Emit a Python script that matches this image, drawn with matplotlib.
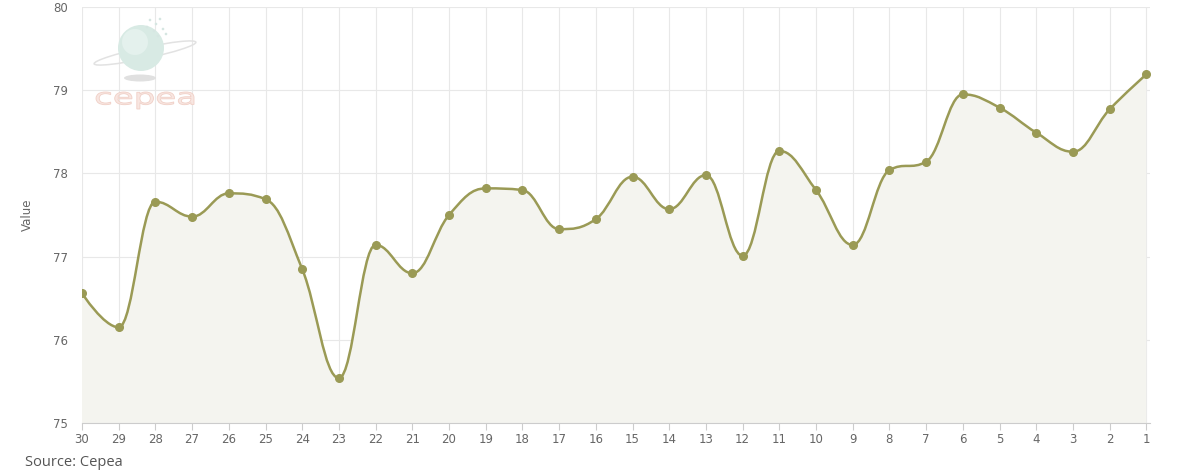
# Cepea daily price line (Highcharts-style spline with area fill)
import matplotlib
matplotlib.use('Agg')
import matplotlib.pyplot as plt
from matplotlib.path import Path
from matplotlib.patches import PathPatch, Circle, Ellipse
from matplotlib.textpath import TextPath
from matplotlib.transforms import Affine2D
from matplotlib.font_manager import FontProperties

days = ['30', '29', '28', '27', '26', '25', '24', '23', '22', '21', '20', '19', '18', '17', '16',
        '15', '14', '13', '12', '11', '10', '9', '8', '7', '6', '5', '4', '3', '2', '1']
values = [76.56, 76.15, 77.66, 77.48, 77.76, 77.69, 76.85, 75.54, 77.14, 76.80, 77.50, 77.82, 77.80,
          77.33, 77.45, 77.96, 77.57, 77.98, 77.01, 78.27, 77.80, 77.14, 78.04, 78.14, 78.95, 78.79,
          78.49, 78.26, 78.77, 79.19]

LINE = '#9a9a55'
FILL = '#f4f4ef'
GRID = '#e8e8e8'
TXT = '#666666'


def spline_path(xs, ys, smoothing=1.5):
    # bezier control points the way highcharts builds its spline
    n = len(xs)
    verts = [(xs[0], ys[0])]
    codes = [Path.MOVETO]
    right = [(xs[0], ys[0])] * n
    left = [(xs[0], ys[0])] * n
    denom = smoothing + 1
    for i in range(1, n - 1):
        px, py = xs[i], ys[i]
        lx, ly = xs[i - 1], ys[i - 1]
        nx, ny = xs[i + 1], ys[i + 1]
        lcx = (smoothing * px + lx) / denom
        lcy = (smoothing * py + ly) / denom
        rcx = (smoothing * px + nx) / denom
        rcy = (smoothing * py + ny) / denom
        if rcx != lcx:
            corr = (rcy - lcy) * (rcx - px) / (rcx - lcx) + py - rcy
            lcy += corr
            rcy += corr
        if lcy > ly and lcy > py:
            lcy = max(ly, py); rcy = 2 * py - lcy
        elif lcy < ly and lcy < py:
            lcy = min(ly, py); rcy = 2 * py - lcy
        if rcy > ny and rcy > py:
            rcy = max(ny, py); lcy = 2 * py - rcy
        elif rcy < ny and rcy < py:
            rcy = min(ny, py); lcy = 2 * py - rcy
        left[i] = (lcx, lcy)
        right[i] = (rcx, rcy)
    left[n - 1] = (xs[n - 1], ys[n - 1])
    for i in range(1, n):
        verts += [right[i - 1], left[i], (xs[i], ys[i])]
        codes += [Path.CURVE4] * 3
    return verts, codes


xs = list(range(len(days)))
verts, codes = spline_path(xs, values)

fig = plt.figure(figsize=(11.79, 4.74), dpi=100)
ax = fig.add_axes([82 / 1179, 1 - 423 / 474, (1150 - 82) / 1179, (423 - 7) / 474])

ymin = 75
fill_verts = verts + [(xs[-1], ymin), (xs[0], ymin), (xs[0], values[0])]
fill_codes = codes + [Path.LINETO, Path.LINETO, Path.CLOSEPOLY]
ax.add_patch(PathPatch(Path(fill_verts, fill_codes), facecolor=FILL, edgecolor='none', zorder=1))
ax.add_patch(PathPatch(Path(verts, codes), facecolor='none', edgecolor=LINE, lw=1.8, zorder=3))
ax.plot(xs, values, 'o', color=LINE, ms=5.5, zorder=4)

ax.set_xlim(0, 29.1)
ax.set_ylim(75, 80)
ax.set_xticks(xs)
ax.set_xticklabels(days)
ax.set_yticks([75, 76, 77, 78, 79, 80])
ax.grid(True, color=GRID, lw=0.8, zorder=0)
ax.set_axisbelow(True)
for s in ['top', 'right', 'left']:
    ax.spines[s].set_visible(False)
ax.spines['bottom'].set_color('#cccccc')
ax.tick_params(axis='x', colors='#cccccc', length=5, width=0.8, labelcolor=TXT, labelsize=8.5, pad=2)
ax.tick_params(axis='y', length=0, labelcolor=TXT, labelsize=8.5, pad=10)
ax.set_ylabel('Value', color=TXT, fontsize=8.5, labelpad=14)

# faint cepea watermark, drawn in pixel space on an overlay
wm = fig.add_axes([0, 0, 1, 1], zorder=0.5)
wm.set_xlim(0, 1179)
wm.set_ylim(474, 0)
wm.axis('off')
wm.patch.set_alpha(0)
wm.add_patch(Ellipse((145, 53), 104, 11, angle=-12, facecolor='none', edgecolor='#e2e2e2', lw=1.1))
wm.add_patch(Circle((141, 48), 23, facecolor='#d8eae4', edgecolor='none'))
wm.add_patch(Circle((135, 42), 13, facecolor='#e4f1ed', edgecolor='none'))
wm.add_patch(Ellipse((140, 78), 32, 7, facecolor='#e0e0e0', edgecolor='none'))
for dx, dy in [(150, 20), (156, 24), (160, 19), (147, 27), (163, 29), (154, 31), (158, 36), (166, 34)]:
    wm.add_patch(Circle((dx, dy), 1.3, facecolor='#d6e6e2', edgecolor='none'))
tp = TextPath((0, 0), 'cepea', size=10, prop=FontProperties(family='DejaVu Sans'))
bb = tp.get_extents()
sx = 98 / bb.width
sy = 17 / bb.height
tr = Affine2D().translate(-bb.x0, -bb.y0).scale(sx, -sy).translate(96, 109)
wm.add_patch(PathPatch(tr.transform_path(tp), facecolor='#f8e6e1', edgecolor='#f0cfc6', lw=0.6))

fig.text(25 / 1179, 1 - 463 / 474, 'Source: Cepea', color='#555555', fontsize=10.5,
         family='Open Sans', va='center')

fig.savefig('out.png', dpi=100)
